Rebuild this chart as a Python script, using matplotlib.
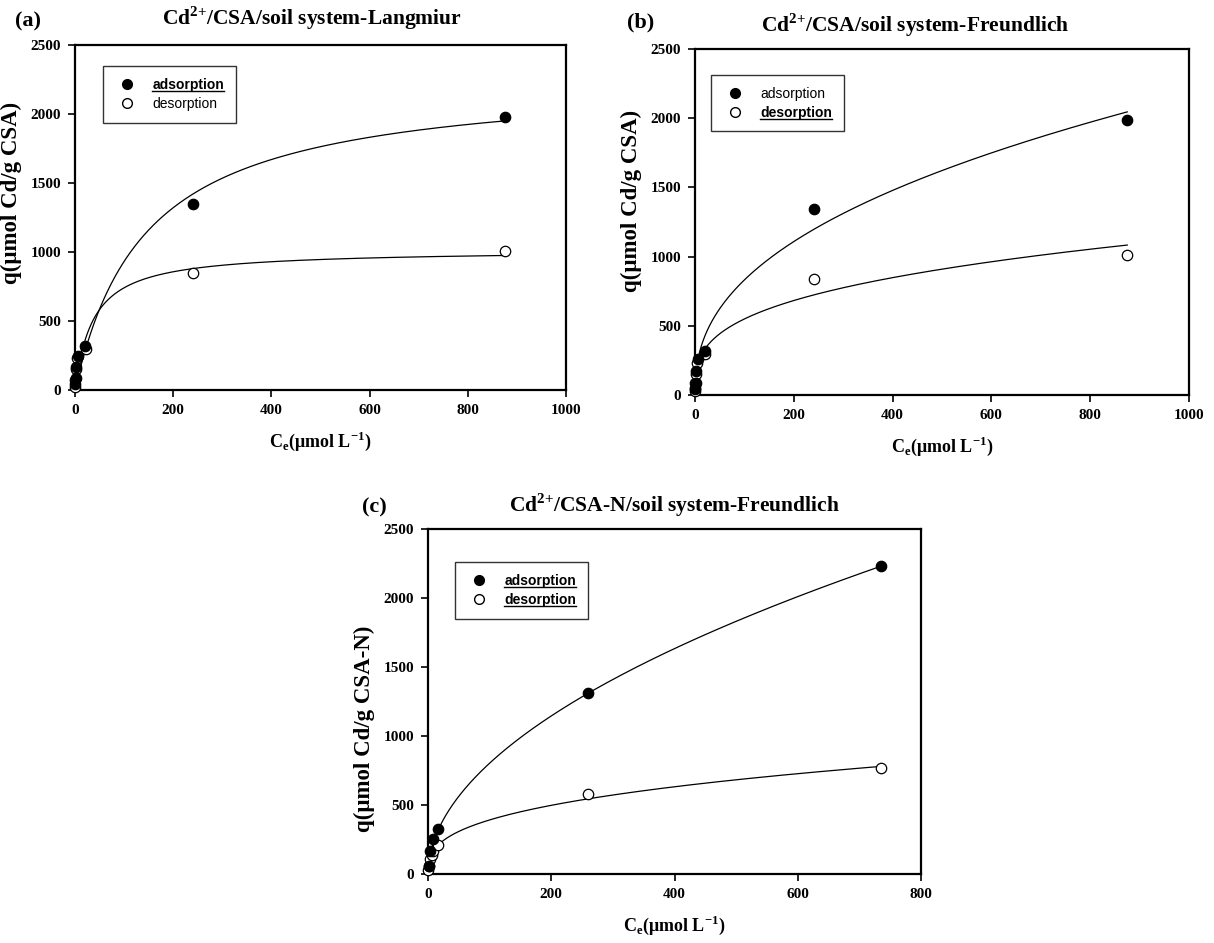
import numpy as np
import matplotlib
matplotlib.use("Agg")
import matplotlib.pyplot as plt
from matplotlib.lines import Line2D

# ---------------- data ----------------
# Panel (a) Cd2+/CSA/soil - Langmuir
a_ads_ce = [0.5, 1.5, 3, 6, 20, 240, 875]
a_ads_q = [40, 90, 170, 250, 320, 1350, 1980]
a_des_ce = [0.3, 1, 2.5, 5, 22, 240, 875]
a_des_q = [25, 70, 150, 230, 295, 845, 1010]
a_ads_langmuir = (2270, 0.00696)   # Qm, KL
a_des_langmuir = (1016, 0.0269)

# Panel (b) Cd2+/CSA/soil - Freundlich
b_ads_ce = [0.5, 1.5, 3, 6, 20, 240, 875]
b_ads_q = [40, 90, 175, 260, 320, 1345, 1985]
b_des_ce = [0.3, 0.6, 1, 3, 5, 20, 240, 875]
b_des_q = [30, 50, 85, 150, 230, 295, 840, 1010]
b_ads_freundlich = (123, 0.415)    # Kf, n
b_des_freundlich = (130, 0.313)

# Panel (c) Cd2+/CSA-N/soil - Freundlich
c_ads_ce = [1, 4, 8, 17, 260, 735]
c_ads_q = [60, 170, 255, 325, 1310, 2230]
c_des_ce = [0.5, 1, 3, 6, 8, 17, 260, 735]
c_des_q = [30, 60, 110, 140, 170, 210, 580, 765]
c_ads_freundlich = (76, 0.512)
c_des_freundlich = (80, 0.345)

xticks_ab = [0, 200, 400, 600, 800, 1000]
xticks_c = [0, 200, 400, 600, 800]
yticks = [0, 500, 1000, 1500, 2000, 2500]

W, H = 1214, 943
fig = plt.figure(figsize=(W / 100, H / 100), dpi=100)

serif = "Liberation Serif"
sans = "Liberation Sans"


def ax_at(x0, y0, x1, y1):
    return fig.add_axes([x0 / W, 1 - y1 / H, (x1 - x0) / W, (y1 - y0) / H])


def langmuir(c, p):
    qm, k = p
    return qm * k * c / (1 + k * c)


def freundlich(c, p):
    kf, n = p
    return kf * c ** n


def style(ax, xmax, xticks, ylabel, ylab_pos):
    ax.set_xlim(0, xmax)
    ax.set_ylim(0, 2500)
    ax.set_xticks(xticks)
    ax.set_yticks(yticks)
    for s in ax.spines.values():
        s.set_linewidth(1.6)
    ax.tick_params(direction="out", length=5, width=1.2, pad=5)
    for lab in ax.get_xticklabels() + ax.get_yticklabels():
        lab.set_fontfamily(serif)
        lab.set_fontweight("bold")
        lab.set_fontsize(11)
    ax.set_xlabel(r"C$_\mathregular{e}$(μmol L$^\mathregular{{-}1}$)", fontfamily=serif,
                  fontweight="bold", fontsize=13, labelpad=9)
    ax.set_ylabel(ylabel, fontfamily=serif, fontweight="bold", fontsize=16.5, labelpad=6)
    ax.yaxis.label.set_y(ylab_pos)


def panel(ax, ads_ce, ads_q, des_ce, des_q, fit, p_ads, p_des, xfit_max):
    cc = np.linspace(0.3, xfit_max, 800)
    ax.plot(cc, fit(cc, p_ads), color="black", lw=0.9, zorder=2)
    ax.plot(cc, fit(cc, p_des), color="black", lw=0.9, zorder=2)
    ax.plot(ads_ce, ads_q, "o", ms=7.5, mfc="black", mec="black", mew=0.9, zorder=4,
            clip_on=False)
    ax.plot(des_ce, des_q, "o", ms=7.5, mfc="white", mec="black", mew=0.9, zorder=3,
            clip_on=False)


def legend(ax, bold_flags, anchor):
    handles = [
        Line2D([], [], ls="none", marker="o", ms=7, mfc="black", mec="black"),
        Line2D([], [], ls="none", marker="o", ms=7, mfc="white", mec="black"),
    ]
    leg = ax.legend(handles, ["adsorption", "desorption"], loc="upper left",
                    bbox_to_anchor=anchor, frameon=True, fancybox=False,
                    edgecolor="black", prop={"family": sans, "size": 10},
                    borderpad=0.85, handletextpad=0.9, labelspacing=0.35,
                    borderaxespad=0, handlelength=1.8)
    leg.get_frame().set_linewidth(1.0)
    for t, b in zip(leg.get_texts(), bold_flags):
        if b:
            t.set_fontweight("bold")
    return leg


axA = ax_at(75, 45, 566, 390)
panel(axA, a_ads_ce, a_ads_q, a_des_ce, a_des_q, langmuir, a_ads_langmuir, a_des_langmuir, 875)
legA = legend(axA, [True, False], (0.057, 0.939))

axB = ax_at(695, 49, 1189, 395)
panel(axB, b_ads_ce, b_ads_q, b_des_ce, b_des_q, freundlich, b_ads_freundlich, b_des_freundlich, 875)
legB = legend(axB, [False, True], (0.032, 0.925))

axC = ax_at(428, 529, 921, 874)
panel(axC, c_ads_ce, c_ads_q, c_des_ce, c_des_q, freundlich, c_ads_freundlich, c_des_freundlich, 735)
legC = legend(axC, [True, True], (0.055, 0.904))

for ax, xmax, xt, yl, yp in [(axA, 1000, xticks_ab, "q(μmol Cd/g CSA)", 0.57),
                             (axB, 1000, xticks_ab, "q(μmol Cd/g CSA)", 0.56),
                             (axC, 800, xticks_c, "q(μmol Cd/g CSA-N)", 0.42)]:
    style(ax, xmax, xt, yl, yp)

# titles and panel letters
tkw = dict(fontfamily=serif, fontweight="bold", fontsize=15.5, ha="center", va="center")
fig.text(312 / W, 1 - 18 / H, r"Cd$^\mathregular{2{+}}$/CSA/soil system-Langmiur", **tkw)
fig.text(915 / W, 1 - 25 / H, r"Cd$^\mathregular{2{+}}$/CSA/soil system-Freundlich", **tkw)
fig.text(674 / W, 1 - 505 / H, r"Cd$^\mathregular{2{+}}$/CSA-N/soil system-Freundlich", **tkw)
lkw = dict(fontfamily=serif, fontweight="bold", fontsize=16, ha="center", va="center")
fig.text(28 / W, 1 - 21 / H, "(a)", **lkw)
fig.text(641 / W, 1 - 22 / H, "(b)", **lkw)
fig.text(374 / W, 1 - 507 / H, "(c)", **lkw)

# underline the bold legend entries
fig.canvas.draw()
renderer = fig.canvas.get_renderer()
inv = fig.transFigure.inverted()
for leg, flags in [(legA, [True, False]), (legB, [False, True]), (legC, [True, True])]:
    for t, b in zip(leg.get_texts(), flags):
        if b:
            bb = t.get_window_extent(renderer)
            (x0, y0) = inv.transform((bb.x0, bb.y0 + 1))
            (x1, _) = inv.transform((bb.x1, bb.y0 + 1))
            fig.add_artist(Line2D([x0, x1], [y0, y0], transform=fig.transFigure,
                                  color="black", lw=1.0))

fig.savefig("out.png", dpi=100)
